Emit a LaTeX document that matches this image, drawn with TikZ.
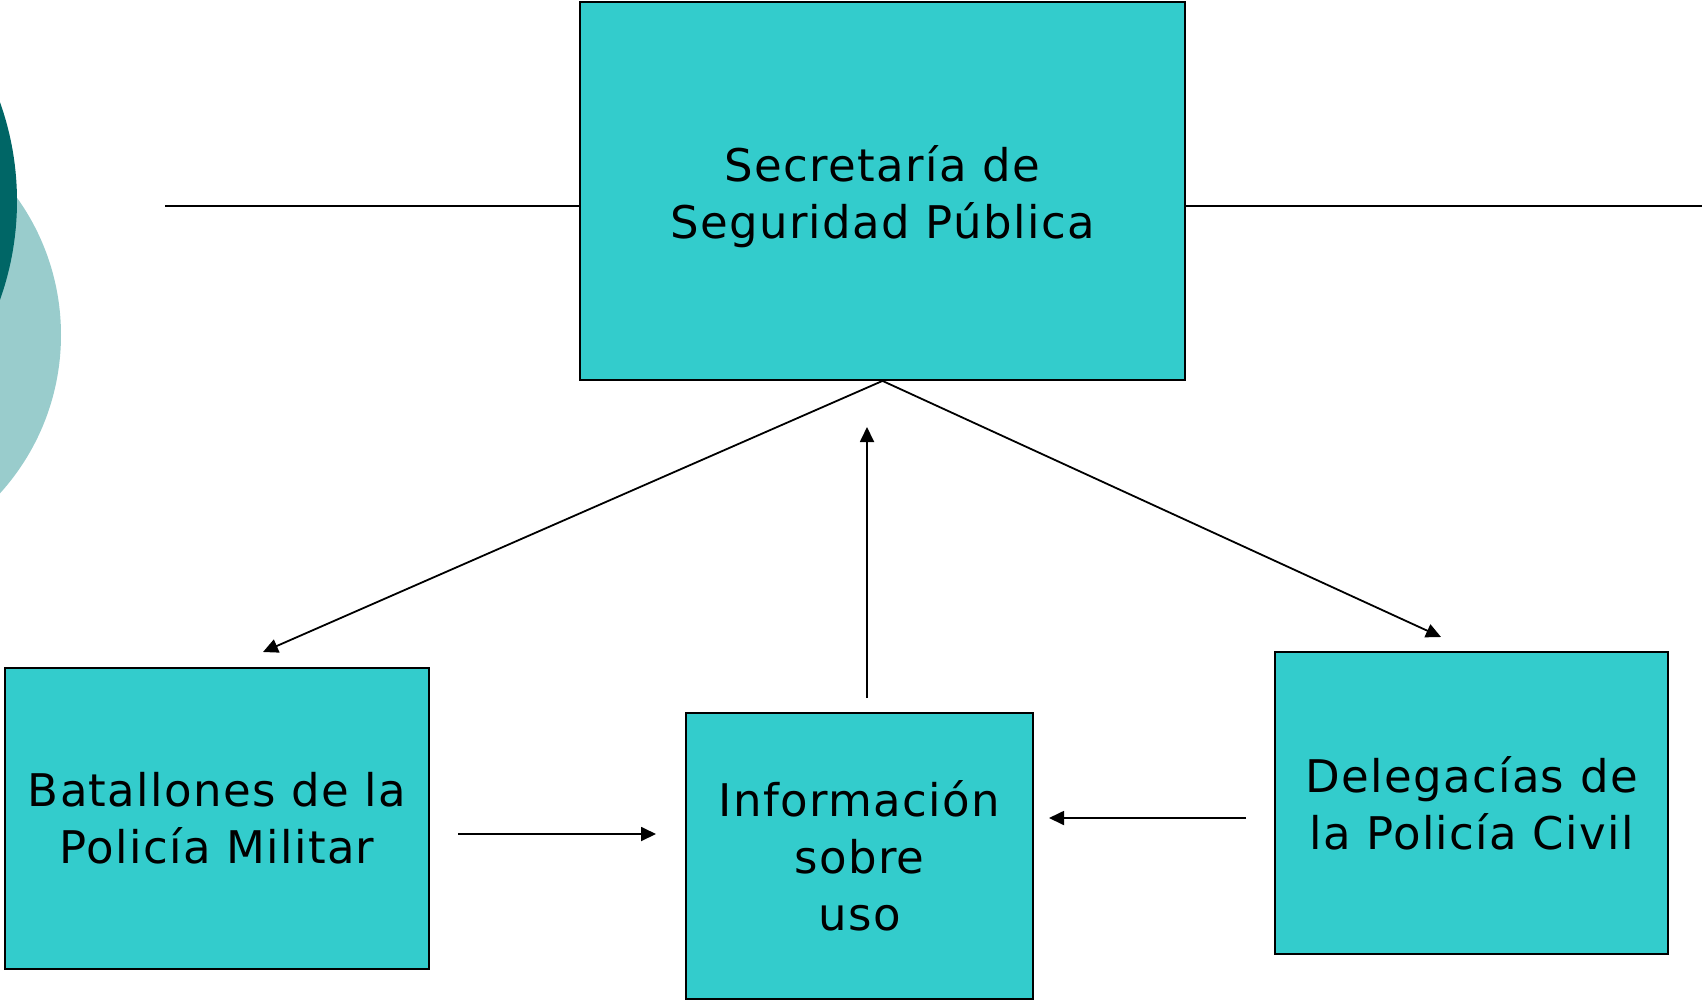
\documentclass[tikz,border=0pt]{standalone}
\usepackage{fontspec}
\setmainfont{DejaVu Sans}
\newfontfamily\boxfont[LetterSpace=3]{DejaVu Sans}
\usetikzlibrary{arrows.meta,positioning}
\definecolor{pTeal}{RGB}{51,204,204}
\definecolor{pDark}{RGB}{0,102,102}
\definecolor{pLight}{RGB}{153,204,204}
\tikzset{
    unit/.style={rectangle, draw, line width=1.8pt, fill=pTeal, align=center, inner sep=0pt,
                 font=\boxfont\fontsize{45}{57}\selectfont},
    link/.style={line width=1.8pt},
    flow/.style={line width=1.8pt, -{Triangle[length=15pt,width=14pt]}}
}

\begin{document}
\begin{tikzpicture}[x=1pt,y=-1pt]
\useasboundingbox (0,0) rectangle (1702,1001);
\begin{scope}
\clip (0,0) rectangle (1702,1001);
\fill[pLight] (-175,335) circle (236);
\fill[pDark] (-277,201) circle (294);
\end{scope}
\node[unit, minimum width=605pt, minimum height=378pt] (sec) at (882.5,191) {};
\node[unit, draw=none, fill=none] (sectxt) at ([yshift=-6pt]sec.center) {Secretaría de\\Seguridad Pública};
\node[unit, minimum width=424pt, minimum height=301pt] (bat) at (217,818.5) {Batallones de la\\Policía Militar};
\node[unit, minimum width=347pt, minimum height=286pt] (inf) at (859.5,856) {Información\\sobre\\uso};
\node[unit, minimum width=393pt, minimum height=302pt] (del) at (1471.5,803) {Delegacías de\\la Policía Civil};
\coordinate (lend) at (165,206);
\coordinate (rend) at (1702,206);
\coordinate (batin) at (263,652);
\coordinate (delin) at (1441,637);
\coordinate (upfrom) at (867,698);
\coordinate (upto) at (867,427);
\coordinate (batfrom) at (458,834);
\coordinate (infl) at (656,834);
\coordinate (delfrom) at (1246,818);
\coordinate (infr) at (1049,818);
\draw[link] (lend) -- (lend -| sec.west);
\draw[link] (rend -| sec.east) -- (rend);
\draw[flow] (sec.south) -- (batin);
\draw[flow] (sec.south) -- (delin);
\draw[flow] (upfrom) -- (upto);
\draw[flow] (batfrom) -- (infl);
\draw[flow] (delfrom) -- (infr);
\end{tikzpicture}
\end{document}
